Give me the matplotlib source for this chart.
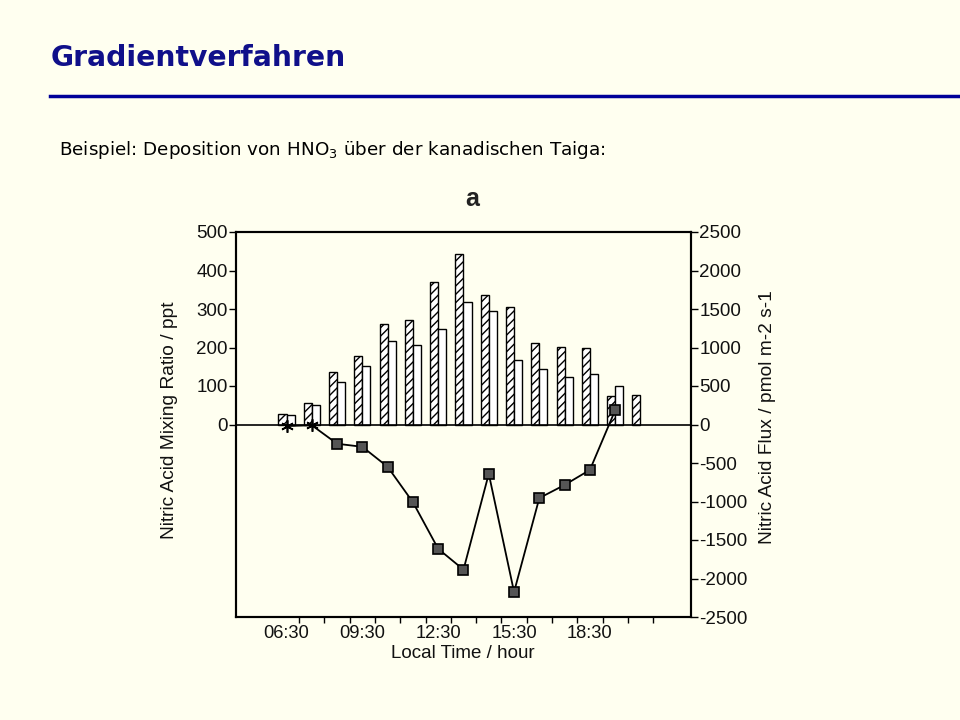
import matplotlib
matplotlib.use('Agg')
import matplotlib.pyplot as plt
from matplotlib.lines import Line2D
import numpy as np

plt.rcParams['axes.unicode_minus'] = False

# ---- data ----
bar_times = [6.5, 7.5, 8.5, 9.5, 10.5, 11.5, 12.5, 13.5, 14.5, 15.5, 16.5, 17.5, 18.5, 19.5, 20.5]
mixing_hatched = [28, 55, 137, 177, 262, 272, 370, 442, 336, 304, 212, 201, 198, 74, 77]
mixing_open = [25, 50, 111, 151, 217, 206, 249, 318, 296, 167, 143, 124, 130, 100, np.nan]

flux_times = [6.5, 7.5, 8.5, 9.5, 10.5, 11.5, 12.5, 13.5, 14.5, 15.5, 16.5, 17.5, 18.5, 19.5]
flux_values = [-20, -10, -250, -290, -550, -1010, -1615, -1885, -640, -2175, -955, -785, -590, 185]

xtick_pos = [6.5, 9.5, 12.5, 15.5, 18.5]
xtick_labels = ['06:30', '09:30', '12:30', '15:30', '18:30']
minor_xticks = [7, 8, 9, 10, 11, 12, 13, 14, 15, 16, 17, 18, 19, 20, 21]
left_ticks = [0, 100, 200, 300, 400, 500]
right_ticks = [-2500, -2000, -1500, -1000, -500, 0, 500, 1000, 1500, 2000, 2500]

BG = '#fffff0'
CF = 'Liberation Sans'
TXT = '#111111'

fig = plt.figure(figsize=(9.6, 7.2), dpi=100, facecolor=BG)

# slide header
fig.text(51/960, 1-58/720, 'Gradientverfahren', fontsize=20.3, fontweight='bold',
         color='#10108a', va='center', ha='left', family='DejaVu Sans')
fig.add_artist(Line2D([50/960, 1.0], [1-96/720, 1-96/720], color='#000099', lw=2.5,
                      transform=fig.transFigure))
fig.text(59/960, 1-150/720, 'Beispiel: Deposition von HNO$_3$ über der kanadischen Taiga:',
         fontsize=13.2, va='center', ha='left', family='DejaVu Sans', color='black')

# chart
ax = fig.add_axes([236/960, 1-617/720, 455/960, 385/720])
ax.set_facecolor(BG)
bt = np.array(bar_times)
w = 0.32
ax.bar(bt - w/2, mixing_hatched, width=w, facecolor='white', edgecolor='black',
       hatch='////', lw=1.0, zorder=2)
ax.bar(bt + w/2, mixing_open, width=w, facecolor='white', edgecolor='black',
       lw=1.0, zorder=2)
ax.axhline(0, color='black', lw=1.2, zorder=3)
ax.set_xlim(4.5, 22.5)
ax.set_ylim(-500, 500)
ax.set_yticks(left_ticks)
ax.set_xticks(xtick_pos)
ax.set_xticklabels(xtick_labels)
ax.set_xticks(minor_xticks, minor=True)
ax.tick_params(axis='x', which='major', length=0, pad=6, labelsize=13.2, labelcolor=TXT)
ax.tick_params(axis='x', which='minor', length=4, direction='out', width=1)
ax.tick_params(axis='y', length=5, direction='out', width=1, labelsize=13.5, pad=1,
               labelcolor=TXT)
for lab in ax.get_xticklabels() + ax.get_yticklabels():
    lab.set_family(CF)
for s in ax.spines.values():
    s.set_linewidth(1.5)

ax2 = ax.twinx()
ax2.set_ylim(-2500, 2500)
ax2.set_yticks(right_ticks)
ax2.tick_params(axis='y', length=5, direction='out', width=1, labelsize=13.5, pad=1,
                labelcolor=TXT)
for lab in ax2.get_yticklabels():
    lab.set_family(CF)
for s in ax2.spines.values():
    s.set_linewidth(1.5)
ax2.plot(flux_times, flux_values, color='black', lw=1.3, zorder=4)
ax2.plot(flux_times[2:], flux_values[2:], linestyle='none', marker='s', markersize=7,
         markerfacecolor='#555555', markeredgecolor='black', markeredgewidth=1.2, zorder=5)
ax2.plot(flux_times[:2], flux_values[:2], linestyle='none', marker=(6, 2, 0), markersize=9,
         color='black', markeredgewidth=1.2, zorder=5)

# labels
fig.text(170/960, 1-420/720, 'Nitric Acid Mixing Ratio / ppt', rotation=90, ha='center',
         va='center', fontsize=13.8, family=CF, color=TXT)
fig.text(768/960, 1-417/720, 'Nitric Acid Flux / pmol m-2 s-1', rotation=90, ha='center',
         va='center', fontsize=13.8, family=CF, color=TXT)
fig.text(463/960, 1-653/720, 'Local Time / hour', ha='center', va='center', fontsize=13.5,
         family=CF, color=TXT)
fig.text(472/960, 1-199/720, 'a', ha='center', va='center', fontsize=18, fontweight='bold',
         family=CF, color='#222222')

fig.savefig('out.png', dpi=100, facecolor=BG)
